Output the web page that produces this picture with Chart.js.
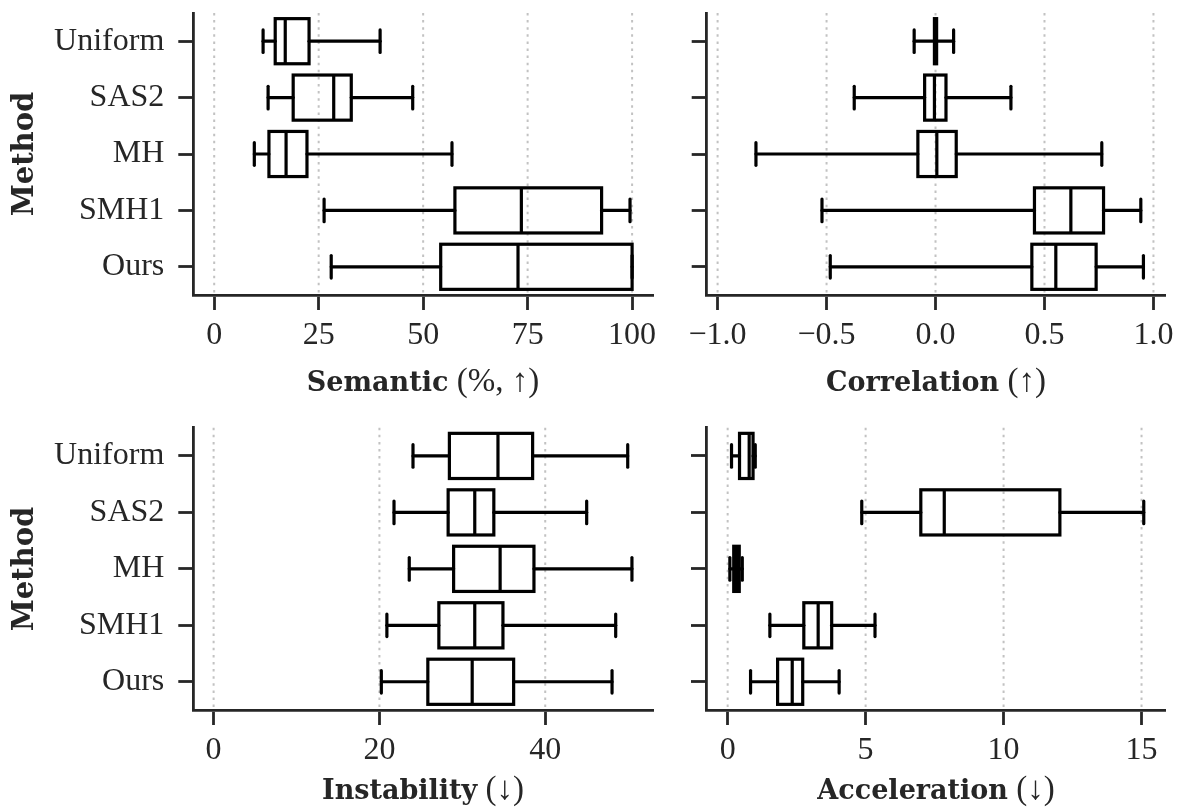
<!DOCTYPE html>
<html>
<head>
<meta charset="utf-8">
<script src="https://cdn.jsdelivr.net/npm/chart.js@4.4.1/dist/chart.umd.min.js"></script>
<style>
  body { margin: 0; background: #fff; width: 1183px; height: 807px; position: relative; overflow: hidden; }
  canvas { position: absolute; }
  .xt { position: absolute; transform: translate(-50%, -50%); white-space: nowrap; color: #262626;
        font-family: 'Liberation Serif', serif; font-size: 33px; }
  .xt b { font-family: 'DejaVu Serif', serif; font-size: 27px; }
  .yt { position: absolute; transform: translate(-50%, -50%) rotate(-90deg); white-space: nowrap;
        font-family: 'DejaVu Serif', serif; font-weight: bold; font-size: 29px; color: #262626; }
</style>
</head>
<body>
<canvas id="semantic" width="670" height="400" style="left:0;top:0"></canvas>
<canvas id="correlation" width="523" height="400" style="left:660px;top:0"></canvas>
<canvas id="instability" width="670" height="407" style="left:0;top:400px"></canvas>
<canvas id="acceleration" width="523" height="407" style="left:660px;top:400px"></canvas>

<div class="xt" style="left:423px;top:380px"><b>Semantic</b> (%, ↑)</div>
<div class="xt" style="left:936px;top:380px"><b>Correlation</b> (↑)</div>
<div class="xt" style="left:423px;top:788px"><b>Instability</b> (↓)</div>
<div class="xt" style="left:936px;top:788px"><b>Acceleration</b> (↓)</div>
<div class="yt" style="left:23px;top:154px">Method</div>
<div class="yt" style="left:23px;top:569px">Method</div>

<script>
const methods = ['Uniform', 'SAS2', 'MH', 'SMH1', 'Ours'];

// one row per method: [lower whisker, q1, median, q3, upper whisker]
const semantic = [
  [11.7, 14.6, 17.0, 22.7, 39.7],
  [12.9, 18.9, 28.6, 32.8, 47.5],
  [9.6, 13.1, 17.2, 22.2, 56.9],
  [26.3, 57.6, 73.5, 92.7, 99.5],
  [28.0, 54.2, 72.7, 100, 100]
];
const correlation = [
  [-0.098, -0.005, 0.0, 0.005, 0.083],
  [-0.373, -0.05, -0.005, 0.048, 0.346],
  [-0.824, -0.081, 0.006, 0.095, 0.763],
  [-0.521, 0.454, 0.621, 0.771, 0.942],
  [-0.483, 0.442, 0.552, 0.737, 0.954]
];
const instability = [
  [24.05, 28.44, 34.3, 38.48, 49.95],
  [21.76, 28.29, 31.5, 33.8, 45.0],
  [23.6, 28.95, 34.56, 38.64, 50.46],
  [20.9, 27.17, 31.5, 34.9, 48.5],
  [20.23, 25.84, 31.19, 36.19, 48.06]
];
const acceleration = [
  [0.14, 0.43, 0.78, 0.92, 1.0],
  [4.86, 7.0, 7.85, 12.04, 15.08],
  [0.08, 0.22, 0.32, 0.42, 0.53],
  [1.53, 2.76, 3.28, 3.77, 5.34],
  [0.83, 1.81, 2.34, 2.72, 4.04]
];

const semanticTicks = [0, 25, 50, 75, 100];
const correlationTicks = [-1, -0.5, 0, 0.5, 1];
const instabilityTicks = [0, 20, 40];
const accelerationTicks = [0, 5, 10, 15];

const ink = '#262626';

// dotted x grid + box/whisker drawing, all from the chart's scales
const boxWhisker = {
  id: 'boxWhisker',
  beforeDatasetsDraw(chart) {
    const { ctx, chartArea, scales: { x } } = chart;
    ctx.save();
    ctx.strokeStyle = '#c2c2c2';
    ctx.lineWidth = 2;
    ctx.setLineDash([2.5, 4.6]);
    x.ticks.forEach(t => {
      const px = x.getPixelForValue(t.value);
      ctx.beginPath();
      ctx.moveTo(px, chartArea.top);
      ctx.lineTo(px, chartArea.bottom);
      ctx.stroke();
    });
    ctx.restore();
  },
  afterDatasetsDraw(chart) {
    const { ctx, scales: { x } } = chart;
    const ds = chart.data.datasets[0];
    const meta = chart.getDatasetMeta(0);
    ctx.save();
    ctx.strokeStyle = '#000';
    ctx.lineWidth = 3.2;
    const line = (x1, y1, x2, y2) => {
      ctx.beginPath(); ctx.moveTo(x1, y1); ctx.lineTo(x2, y2); ctx.stroke();
    };
    ds.stats.forEach((s, i) => {
      const el = meta.data[i];
      const y = el.y, h = el.height;
      const [lo, q1, med, q3, hi] = s.map(v => x.getPixelForValue(v));
      ctx.lineCap = 'round';
      line(lo, y, q1, y);
      line(q3, y, hi, y);
      line(lo, y - h / 4, lo, y + h / 4);
      line(hi, y - h / 4, hi, y + h / 4);
      ctx.lineCap = 'butt';
      ctx.lineJoin = 'miter';
      ctx.strokeRect(q1, y - h / 2, q3 - q1, h);
      line(med, y - h / 2, med, y + h / 2);
    });
    ctx.restore();
  }
};

function makeChart(id, stats, ticks, min, max, fmt, showLabels, yWidth, padTop, padRight, xHeight) {
  return new Chart(document.getElementById(id), {
    type: 'bar',
    data: {
      labels: methods,
      datasets: [{
        data: stats.map(s => [s[1], s[3]]),
        stats: stats,
        backgroundColor: 'rgba(0,0,0,0)',
        borderWidth: 0,
        barPercentage: 0.8,
        categoryPercentage: 1.0
      }]
    },
    options: {
      indexAxis: 'y',
      responsive: false,
      animation: false,
      layout: { padding: { top: padTop, right: padRight, left: 0, bottom: 0 } },
      plugins: { legend: { display: false }, tooltip: { enabled: false } },
      scales: {
        x: {
          type: 'linear',
          min: min,
          max: max,
          afterBuildTicks: scale => { scale.ticks = ticks.map(v => ({ value: v })); },
          afterFit: scale => { scale.height = xHeight; },
          grid: { drawOnChartArea: false, drawTicks: true, tickLength: 15, tickWidth: 2.8, tickColor: ink },
          border: { display: true, color: ink, width: 2.8 },
          ticks: {
            color: ink,
            padding: 6,
            maxRotation: 0,
            font: { family: 'Liberation Serif', size: 32 },
            callback: fmt
          }
        },
        y: {
          offset: true,
          afterFit: scale => {
            scale.width = yWidth;
            scale.paddingTop = 0;
            scale.paddingBottom = 0;
          },
          grid: { offset: false, drawOnChartArea: false, drawTicks: true, tickLength: 15, tickWidth: 2.8, tickColor: ink },
          border: { display: true, color: ink, width: 2.8 },
          ticks: {
            display: showLabels,
            color: ink,
            padding: 14,
            font: { family: 'Liberation Serif', size: 32 }
          }
        }
      }
    },
    plugins: [boxWhisker]
  });
}

const intFmt = v => String(v);
const decFmt = v => v.toFixed(1).replace('-', '\u2212');

makeChart('semantic', semantic, semanticTicks, -5, 105, intFmt, true, 193.3, 13, 17, 105);
makeChart('correlation', correlation, correlationTicks, -1.05, 1.053, decFmt, false, 46.7, 13, 18, 105);
makeChart('instability', instability, instabilityTicks, -2.45, 53.0, intFmt, true, 193.3, 27.7, 17, 97);
makeChart('acceleration', acceleration, accelerationTicks, -0.785, 15.85, intFmt, false, 46, 27.7, 18, 97);
</script>
</body>
</html>
